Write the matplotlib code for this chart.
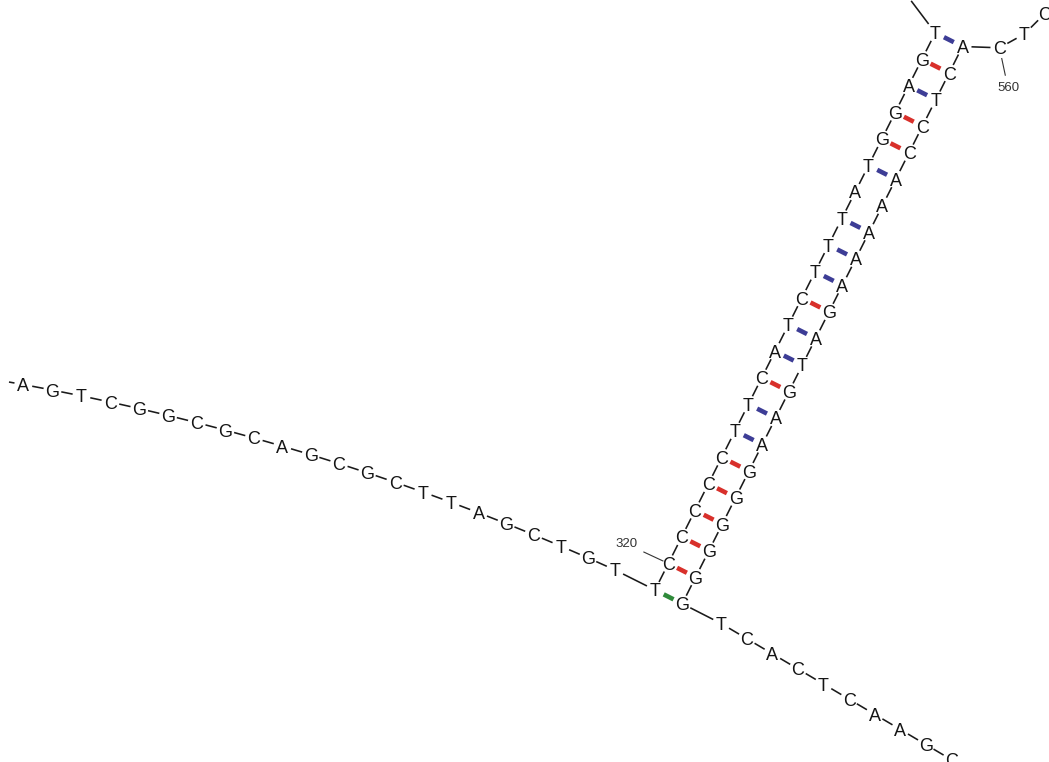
import numpy as np
import matplotlib
matplotlib.use("Agg")
import matplotlib.pyplot as plt

# ---- sequence of the drawn region ----
tail5 = list("AGTCGGCGCAGCGCTTAGCTGT")    # single-stranded run leading into the helix
helix5 = list("TCCCCCTTCATCTTTATGGAGT")   # ascending helix strand, 5'->3'
helix3 = list("ACTCCAAAAAGATGAAGGGGGG")   # descending helix strand, 5'->3'
tail3 = list("TCACTCAAGC")                # single-stranded run leaving the helix
loop5 = list("CTC")                       # loop residues right before the descending strand

helix5_first = 319                        # residue number of helix5[0]
loop5_first = 558                         # residue number of loop5[0]
numbered = [320, 560]                     # residues carrying a number tick

# ---- styling ----
pair_colors = {"AT": "#3d3d96", "TA": "#3d3d96",
               "GC": "#d8302b", "CG": "#d8302b",
               "GT": "#2f8a3a", "TG": "#2f8a3a"}
LETTER_COLOR = "#151515"
FONT = "Liberation Sans"
FS = 13.0
CAP = 0.716 * FS * 100 / 72          # cap height in pixels

# ---- layout parameters (pixel frame, y downward) ----
W, H = 1049, 762
STEP = 29.7
HELIX_BASE = np.array([655.0, 590.0])
HELIX_AXIS = -63.3
HELIX_WIDTH = 30.5
GAP = 9.0


def unit(deg):
    r = np.radians(deg)
    return np.array([np.cos(r), np.sin(r)])


n = len(helix5)
p_h5 = [HELIX_BASE + i * STEP * unit(HELIX_AXIS) for i in range(n)]
p_h3 = [p_h5[n - 1 - j] + HELIX_WIDTH * unit(HELIX_AXIS + 90) for j in range(n)]

# 5' tail: gentle arc, walked backwards from the helix
p_t5 = [None] * len(tail5)
p_t5[-1] = p_h5[0] - 44.7 * unit(26.6)
for k in range(len(tail5) - 2, -1, -1):
    p_t5[k] = p_t5[k + 1] - 29.6 * unit(10.7 + 0.67 * k)

# 3' tail: straight run
p_t3 = [p_h3[-1] + 43.8 * unit(27)]
for k in range(1, len(tail3)):
    p_t3.append(p_t3[-1] + 29.7 * unit(30.6))

# loop residues, walked back from the top of the descending strand
loop_steps = [(37.0, 2.0), (28.6, -29.0), (28.3, -45.0)]
p_l5 = [None] * len(loop5)
cur = p_h3[0]
for idx, (ln, hd) in zip(range(len(loop5) - 1, -1, -1), loop_steps):
    cur = cur + ln * unit(hd)
    p_l5[idx] = cur

fig = plt.figure(figsize=(W / 100, H / 100), dpi=100)
ax = fig.add_axes([0, 0, 1, 1])
ax.set_xlim(0, W)
ax.set_ylim(H, 0)
ax.axis("off")


def backbone(a, b, g0=GAP, g1=GAP):
    d = b - a
    L = np.hypot(*d)
    u = d / L
    s, e = a + u * g0, b - u * g1
    ax.plot([s[0], e[0]], [s[1], e[1]], color="#1a1a1a", lw=1.15,
            solid_capstyle="butt", zorder=2)


def letter(p, ch):
    ax.text(p[0], p[1] + CAP / 2, ch, ha="center", va="baseline",
            fontsize=FS, family=FONT, color=LETTER_COLOR, zorder=4)


# backbone along the chain
chain_a = p_t5 + p_h5
for a, b in zip(chain_a[:-1], chain_a[1:]):
    backbone(a, b)
chain_b = p_l5 + p_h3 + p_t3
for a, b in zip(chain_b[:-1], chain_b[1:]):
    backbone(a, b)

# stubs continuing out of the frame
backbone(p_t5[0], p_t5[0] - 29.6 * unit(10.0), GAP, 15)
backbone(p_h5[-1], p_h5[-1] + 45 * unit(-127), 11, 5)

# base-pair bonds
for i in range(n):
    a, b = p_h5[i], p_h3[n - 1 - i]
    col = pair_colors.get(helix5[i] + helix3[n - 1 - i])
    if col is None:
        continue
    m = (a + b) / 2
    u = (b - a) / np.hypot(*(b - a))
    s, e = m - u * 5.5, m + u * 5.5
    ax.plot([s[0], e[0]], [s[1], e[1]], color=col, lw=3.3,
            solid_capstyle="butt", zorder=3)

# residue letters
for seq, pos in [(tail5, p_t5), (helix5, p_h5), (helix3, p_h3),
                 (tail3, p_t3), (loop5, p_l5)]:
    for ch, p in zip(seq, pos):
        letter(p, ch)


# numbering ticks
def number_tick(p, num, ang, t0, t1, lab):
    u = unit(ang)
    s, e = p + u * t0, p + u * t1
    ax.plot([s[0], e[0]], [s[1], e[1]], color="#333333", lw=0.8, zorder=2)
    q = p + u * lab
    ax.text(q[0], q[1], str(num), ha="center", va="center", fontsize=9.5,
            family=FONT, color="#333333", zorder=4)


number_tick(p_h5[numbered[0] - helix5_first], numbered[0], 205.0, 6, 27, 46)
number_tick(p_l5[numbered[1] - loop5_first], numbered[1], 78.0, 11, 28, 41)

fig.savefig("out.png", dpi=100, facecolor="white")
